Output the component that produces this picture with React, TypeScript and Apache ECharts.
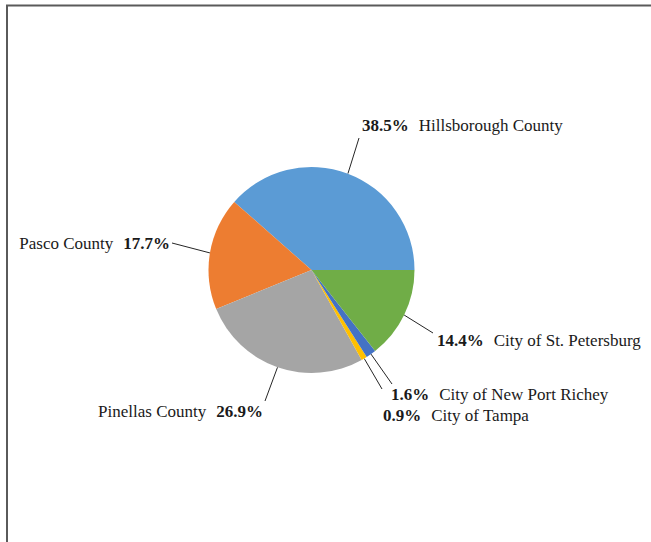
import React, { useEffect, useRef } from "react";
import * as echarts from "echarts";

const categories = [
  "Hillsborough County",
  "Pasco County",
  "Pinellas County",
  "City of Tampa",
  "City of New Port Richey",
  "City of St. Petersburg",
];
const shares = [38.5, 17.7, 26.9, 0.9, 1.6, 14.4];
const colors = ["#5B9BD5", "#ED7D31", "#A5A5A5", "#FFC000", "#4472C4", "#70AD47"];

// label placement (layout only): end of leader line, label anchor, side
const labelPlacement = [
  { lx: 359, ly: 138, tx: 362, ty: 125, side: "right" },
  { lx: 172, ly: 243, tx: 170, ty: 243, side: "left" },
  { lx: 265, ly: 401, tx: 263, ty: 411, side: "left" },
  { lx: 382, ly: 389, tx: 383, ty: 415, side: "right" },
  { lx: 392, ly: 384, tx: 391, ty: 394, side: "right" },
  { lx: 433, ly: 333, tx: 437, ty: 340, side: "right" },
];

export default function App() {
  const ref = useRef<HTMLDivElement>(null);
  useEffect(() => {
    if (!ref.current) return;
    const chart = echarts.init(ref.current, undefined, { renderer: "svg" });
    chart.setOption({
      animation: false,
      backgroundColor: "#ffffff",
      graphic: [
        {
          type: "rect",
          shape: { x: 7, y: 5.5, width: 900, height: 900 },
          style: { fill: "none", stroke: "#5a5a5a", lineWidth: 2 },
          silent: true,
        },
      ],
      series: [
        {
          type: "pie",
          center: [311.5, 270],
          radius: 103,
          startAngle: 0,
          clockwise: false,
          percentPrecision: 1,
          avoidLabelOverlap: false,
          itemStyle: { borderWidth: 0 },
          data: categories.map((name, i) => ({
            name,
            value: shares[i],
            itemStyle: { color: colors[i] },
          })),
          label: {
            show: true,
            position: "outside",
            fontFamily: "Liberation Serif",
            fontSize: 17,
            color: "#1a1a1a",
            formatter: (p: any) => {
              const pct = p.value.toFixed(1) + "%";
              return labelPlacement[p.dataIndex].side === "left"
                ? `{n|${p.name}}{g| }{p|${pct}}`
                : `{p|${pct}}{g| }{n|${p.name}}`;
            },
            rich: {
              p: { fontFamily: "Liberation Serif", fontSize: 17, fontWeight: "bold", color: "#1a1a1a" },
              n: { fontFamily: "Liberation Serif", fontSize: 17, color: "#1a1a1a" },
              g: { fontFamily: "Liberation Serif", fontSize: 17, width: 10 },
            },
          },
          labelLine: {
            show: true,
            length: 10,
            length2: 10,
            lineStyle: { color: "#262626", width: 1 },
          },
          labelLayout: (params: any) => {
            const pl = labelPlacement[params.dataIndex];
            const start = params.labelLinePoints ? params.labelLinePoints[0] : [pl.lx, pl.ly];
            return {
              x: pl.tx,
              y: pl.ty,
              align: pl.side === "left" ? "right" : "left",
              verticalAlign: "middle",
              labelLinePoints: [start, [pl.lx, pl.ly], [pl.lx, pl.ly]],
            };
          },
        },
      ],
    });
    return () => chart.dispose();
  }, []);
  return (
    <div
      ref={ref}
      style={{ position: "fixed", left: 0, top: 0, width: 651, height: 542 }}
    />
  );
}
